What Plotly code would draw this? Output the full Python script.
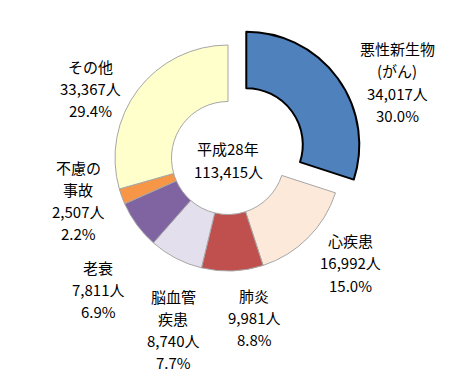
import plotly.graph_objects as go

# page body has an 8px default margin; work in window pixels and subtract it
OFF = 8
W, H = 465 - OFF, 390 - OFF

causes = ["悪性新生物<br>(がん)", "心疾患", "肺炎", "脳血管<br>疾患", "老衰", "不慮の<br>事故", "その他"]
deaths = [34017, 16992, 9981, 8740, 7811, 2507, 33367]
pct_labels = ["30.0%", "15.0%", "8.8%", "7.7%", "6.9%", "2.2%", "29.4%"]
colors = ["#4F81BD", "#FDE9D9", "#C0504D", "#E4DFEC", "#8064A2", "#F79646", "#FFFFCC"]
pulls = [0.2, 0, 0, 0, 0, 0, 0]
total_lines = ["平成28年", "113,415人"]

# label block centres in window pixels (x, y from top)
label_pos = [(397, 82), (350, 263), (254, 317), (173, 329), (98, 289), (78, 200), (90, 89)]
LINE = 22  # line spacing in px

cx, cy, r = 228, 158, 113
half = r * (1 + max(pulls))


def px(x):
    return (x - OFF) / W


def py(y):
    return 1 - (y - OFF) / H


fig = go.Figure(go.Pie(
    values=deaths,
    labels=[c.replace("<br>", "") for c in causes],
    sort=False,
    direction="clockwise",
    rotation=0,
    hole=0.5,
    pull=pulls,
    textinfo="none",
    hoverinfo="skip",
    marker=dict(colors=colors,
                line=dict(color=["#000000"] + ["#A6A6A6"] * 6,
                          width=[2] + [1] * 6)),
    domain=dict(x=[px(cx - half), px(cx + half)],
                y=[py(cy + half), py(cy - half)]),
    showlegend=False,
))

font = dict(family="Noto Sans CJK JP", size=15, color="#000000")


def add_block(lines, lx, ly):
    n = len(lines)
    for i, t in enumerate(lines):
        yy = ly + (i - (n - 1) / 2) * LINE
        fig.add_annotation(x=px(lx), y=py(yy), xref="paper", yref="paper",
                           text=t, showarrow=False, xanchor="center",
                           yanchor="middle", font=font, align="center")


for name, v, p, (lx, ly) in zip(causes, deaths, pct_labels, label_pos):
    add_block(name.split("<br>") + [f"{v:,}人", p], lx, ly)

add_block(total_lines, cx, 160)

fig.update_layout(width=W, height=H, margin=dict(l=0, r=0, t=0, b=0),
                  paper_bgcolor="white", plot_bgcolor="white")
fig.write_html("out.html")
